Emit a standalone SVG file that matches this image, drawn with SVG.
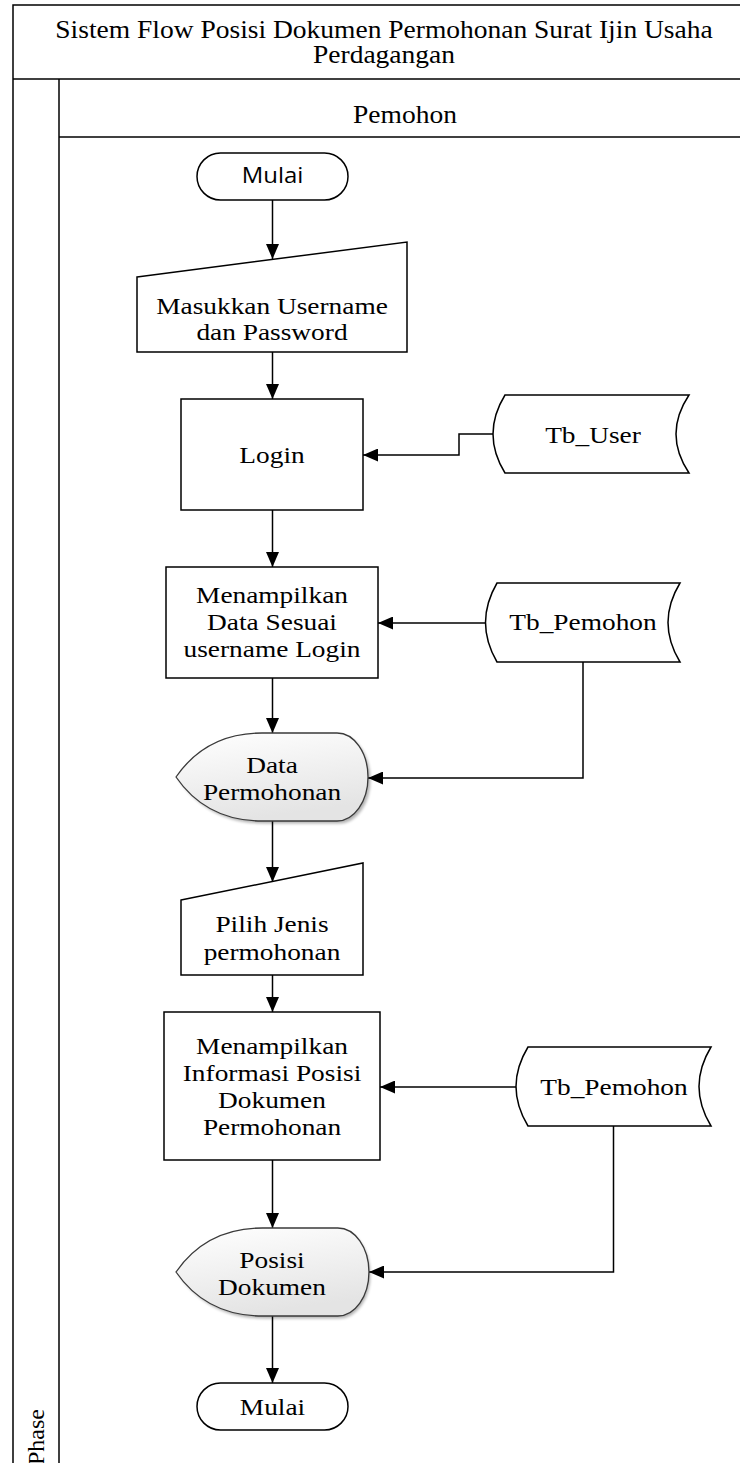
<svg xmlns="http://www.w3.org/2000/svg" width="740" height="1463" viewBox="0 0 740 1463">
  <style>
    .frame { fill: none; stroke: #000; stroke-width: 1.5; }
    .box { fill: #fff; stroke: #000; stroke-width: 1.5; }
    .disp { fill: url(#dispFill); stroke: #3a3a3a; stroke-width: 1.3; }
    .link { fill: none; stroke: #000; stroke-width: 1.5; }
    .arrow { marker-end: url(#ah); }
    .t { font-family: "Liberation Serif", "Times New Roman", serif; font-size: 24px; fill: #000; text-anchor: middle; }
    .ts { font-family: "Open Sans", "Noto Sans", sans-serif; font-size: 21px; fill: #000; text-anchor: middle; }
    .head { font-family: "Liberation Serif", "Times New Roman", serif; font-size: 25px; fill: #000; text-anchor: middle; }
    .phase { font-family: "Liberation Serif", "Times New Roman", serif; font-size: 24px; fill: #000; text-anchor: start; }
  </style>
  <defs>
    <marker id="ah" markerWidth="15" markerHeight="13" refX="15" refY="6.5" orient="auto" markerUnits="userSpaceOnUse">
      <path d="M0,0 L15,6.5 L0,13 z" fill="#000"/>
    </marker>
    <linearGradient id="dispFill" x1="0" y1="0" x2="0.3" y2="1">
      <stop offset="0" stop-color="#ffffff"/>
      <stop offset="1" stop-color="#e4e4e4"/>
    </linearGradient>
    <filter id="soft" x="-10%" y="-10%" width="130%" height="130%">
      <feGaussianBlur stdDeviation="1.6"/>
    </filter>
    <!-- display shape outline, local coords: 0..192 wide, 0..88 high -->
    <path id="dispShape" d="M0,44 C20,15 48,0 86,0 H161 A31,44 0 0 1 161,88 H86 C48,88 20,73 0,44 Z"/>
  </defs>

  <!-- swimlane frame -->
  <g id="pool">
    <path class="frame" d="M13,1470 V5 H760"/>
    <path class="frame" d="M13,79 H760"/>
    <path class="frame" d="M59,79 V1470"/>
    <path class="frame" d="M59,137 H760"/>
    <text class="head" transform="translate(384 0) scale(1.1 1)"><tspan x="0" y="38.5">Sistem Flow Posisi Dokumen Permohonan Surat Ijin Usaha</tspan><tspan x="0" y="63.5">Perdagangan</tspan></text>
    <text class="head" transform="translate(405 123) scale(1.1 1)">Pemohon</text>
    <text class="phase" transform="translate(44 1465) rotate(-90)">Phase</text>
  </g>

  <!-- connectors -->
  <g id="connectors">
    <path class="link arrow" d="M272.5,200 V259"/>
    <path class="link arrow" d="M272.5,352 V399"/>
    <path class="link arrow" d="M272.5,510 V567"/>
    <path class="link arrow" d="M272.5,678 V733"/>
    <path class="link arrow" d="M272.5,821 V882"/>
    <path class="link arrow" d="M272.5,975 V1012"/>
    <path class="link arrow" d="M272.5,1160 V1228"/>
    <path class="link arrow" d="M272.5,1316 V1383"/>
    <path class="link arrow" d="M493,434 H459 V455 H363"/>
    <path class="link arrow" d="M486,623 H378"/>
    <path class="link arrow" d="M583,662 V778 H368"/>
    <path class="link arrow" d="M516,1087 H380"/>
    <path class="link arrow" d="M613.5,1126 V1272 H369"/>
  </g>

  <g id="start">
    <rect class="box" x="197" y="153" width="151" height="47" rx="23.5"/>
    <text class="ts" transform="translate(272.5 183) scale(1.14 1)">Mulai</text>
  </g>

  <g id="input-login">
    <path class="box" d="M137,277 L407,242 V352 H137 Z"/>
    <text class="t" transform="translate(272 0) scale(1.14 1)"><tspan x="0" y="314">Masukkan Username</tspan><tspan x="0" y="340">dan Password</tspan></text>
  </g>

  <g id="login">
    <rect class="box" x="181" y="399" width="182" height="111"/>
    <text class="t" transform="translate(272 463) scale(1.14 1)">Login</text>
  </g>

  <g id="tb-user">
    <path class="box" d="M505,395 H689 Q663,434 689,473 H505 Q481,434 505,395 Z"/>
    <text class="t" transform="translate(593 443) scale(1.14 1)">Tb_User</text>
  </g>

  <g id="show-data">
    <rect class="box" x="166" y="567" width="212" height="111"/>
    <text class="t" transform="translate(272 0) scale(1.14 1)"><tspan x="0" y="603">Menampilkan</tspan><tspan x="0" y="630">Data Sesuai</tspan><tspan x="0" y="657">username Login</tspan></text>
  </g>

  <g id="tb-pemohon-1">
    <path class="box" d="M497,583 H680 Q656,622.5 680,662 H497 Q474,622.5 497,583 Z"/>
    <text class="t" transform="translate(583 630) scale(1.14 1)">Tb_Pemohon</text>
  </g>

  <g id="data-permohonan">
    <use href="#dispShape" transform="translate(178.5 735.5)" fill="#000" opacity="0.3" filter="url(#soft)"/>
    <use href="#dispShape" class="disp" transform="translate(176 733)"/>
    <text class="t" transform="translate(272 0) scale(1.14 1)"><tspan x="0" y="773">Data</tspan><tspan x="0" y="800">Permohonan</tspan></text>
  </g>

  <g id="pilih-jenis">
    <path class="box" d="M181,900 L363,863 V975 H181 Z"/>
    <text class="t" transform="translate(272 0) scale(1.14 1)"><tspan x="0" y="932">Pilih Jenis</tspan><tspan x="0" y="960">permohonan</tspan></text>
  </g>

  <g id="show-posisi">
    <rect class="box" x="164" y="1012" width="216" height="148"/>
    <text class="t" transform="translate(272 0) scale(1.14 1)"><tspan x="0" y="1054">Menampilkan</tspan><tspan x="0" y="1081">Informasi Posisi</tspan><tspan x="0" y="1108">Dokumen</tspan><tspan x="0" y="1135">Permohonan</tspan></text>
  </g>

  <g id="tb-pemohon-2">
    <path class="box" d="M528,1047 H711 Q687,1086.5 711,1126 H528 Q504,1086.5 528,1047 Z"/>
    <text class="t" transform="translate(614 1095) scale(1.14 1)">Tb_Pemohon</text>
  </g>

  <g id="posisi-dokumen">
    <use href="#dispShape" transform="translate(178.5 1230.5)" fill="#000" opacity="0.3" filter="url(#soft)"/>
    <use href="#dispShape" class="disp" transform="translate(176 1228) scale(1.005 1)"/>
    <text class="t" transform="translate(272 0) scale(1.14 1)"><tspan x="0" y="1268">Posisi</tspan><tspan x="0" y="1295">Dokumen</tspan></text>
  </g>

  <g id="finish">
    <rect class="box" x="197" y="1383" width="151" height="47" rx="23.5"/>
    <text class="t" transform="translate(272.5 1415) scale(1.14 1)">Mulai</text>
  </g>
</svg>
